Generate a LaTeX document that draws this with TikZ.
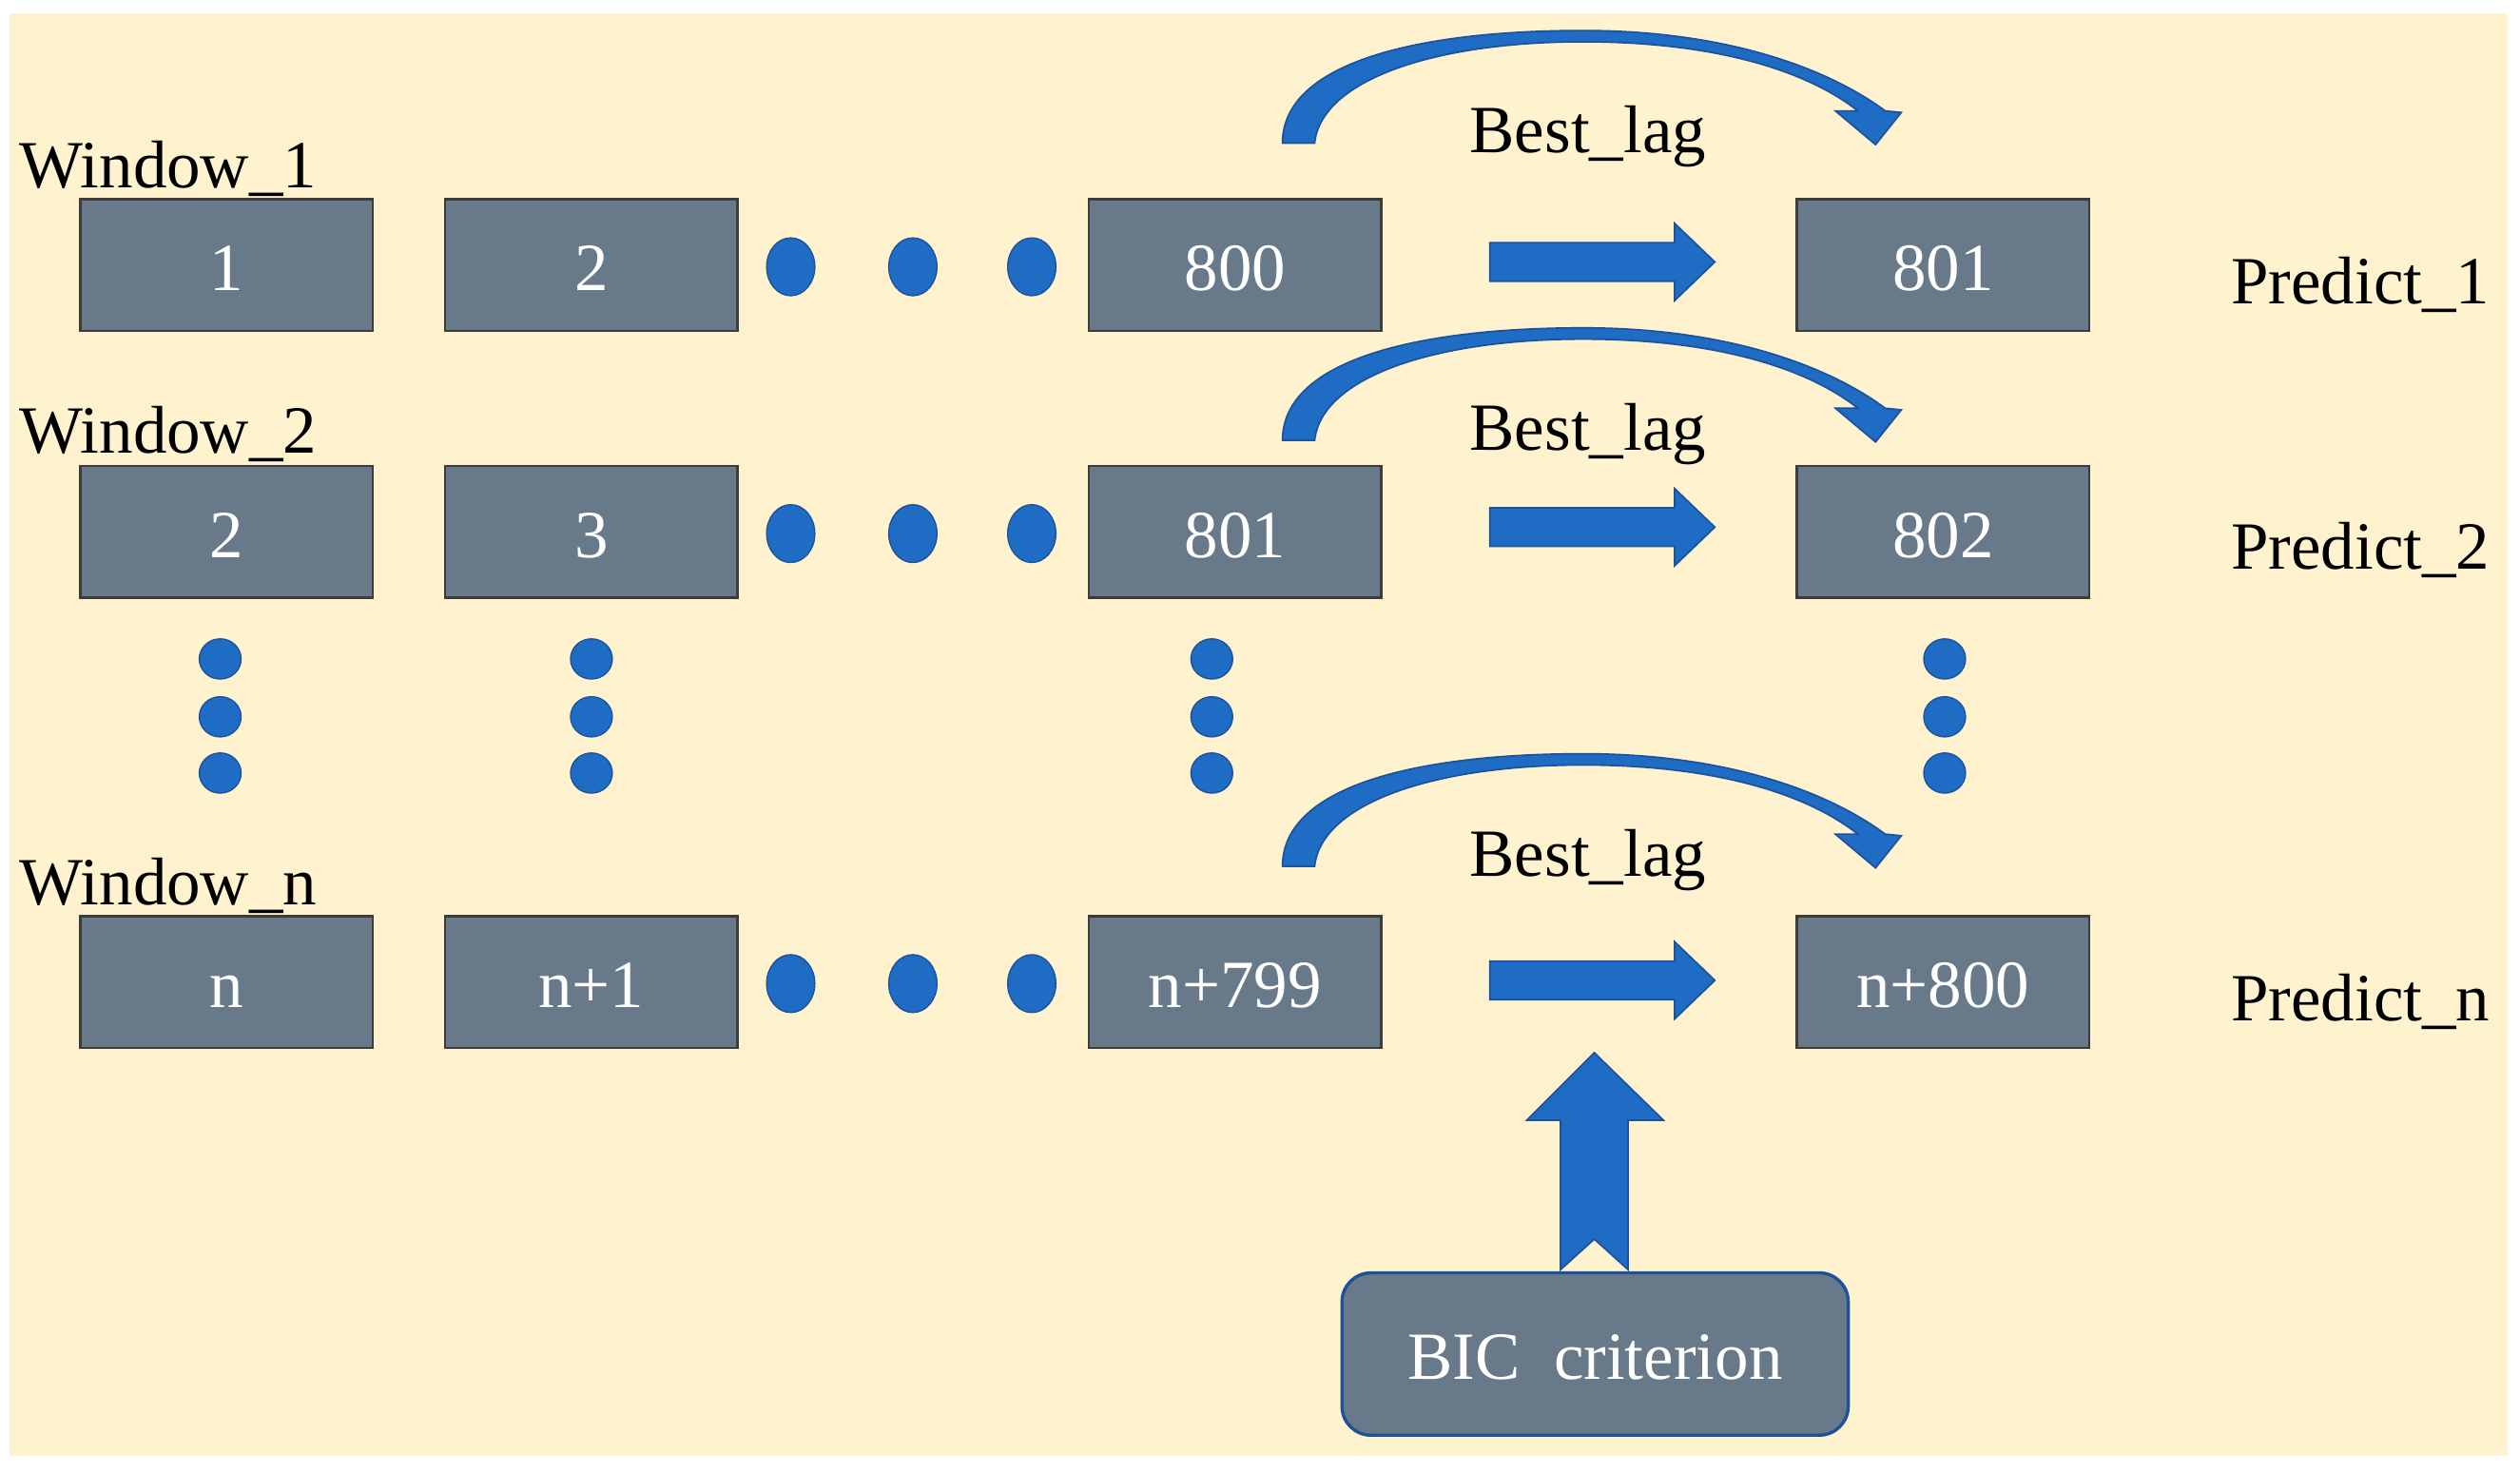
\documentclass[tikz,border=0pt]{standalone}
\usepackage{fontspec}
\setmainfont{Liberation Serif}
\definecolor{bg}{RGB}{255,242,206}
\definecolor{boxfill}{RGB}{104,121,138}
\definecolor{boxline}{RGB}{60,60,60}
\definecolor{arrowblue}{RGB}{30,108,196}
\definecolor{arrowline}{RGB}{28,82,156}
\newcommand\lblfont{\fontsize{42}{50}\selectfont}
\begin{document}
\begin{tikzpicture}[x=1pt,y=-1pt,
  cell/.style={draw=boxline, line width=1.5pt, fill=boxfill, minimum width=182pt,
    minimum height=82pt, inner sep=0pt, text=white, font=\lblfont,
    text height=32pt, text depth=0pt},
  lbl/.style={font=\lblfont, text=black, inner sep=0pt},
  blk/.style={fill=arrowblue, draw=arrowline, line width=1pt, line join=miter},
  hdot/.style={fill=arrowblue, draw=arrowline, line width=0.8pt}]
\useasboundingbox (0,0) rectangle (1568,916);
\fill[bg] (6,8) rectangle (1560,906);

% rows of boxes
\foreach \r/\cy/\a/\b/\c/\d in {1/165/1/2/800/801, 2/331/2/3/801/802, 3/611/n/n+1/n+799/n+800}{
  \node[cell] (r\r a) at (141,\cy) {\a};
  \node[cell] (r\r b) at (368,\cy) {\b};
  \node[cell] (r\r c) at (768.5,\cy) {\c};
  \node[cell] (r\r d) at (1209,\cy) {\d};
  \foreach \x in {492,568,642}{
    \filldraw[hdot] (\x,\cy+1) ellipse [x radius=15, y radius=18];
  }
}

% window / predict labels
\node[lbl, anchor=base west] (w1) at (12,117) {Window\_1};
\node[lbl, anchor=base west] (w2) at (12,282) {Window\_2};
\node[lbl, anchor=base west] (wn) at (12,563) {Window\_n};
\node[lbl, anchor=base west] (p1) at (1388,189) {Predict\_1};
\node[lbl, anchor=base west] (p2) at (1388,354) {Predict\_2};
\node[lbl, anchor=base west] (pn) at (1388,635) {Predict\_n};

% vertical dots
\foreach \x in {137,368,754,1210}{
  \foreach \y in {410,446,481}{
    \filldraw[hdot] (\x,\y) ellipse [x radius=13, y radius=12.5];
  }
}

% straight block arrows
\foreach \cy in {163,328,610}{
  \filldraw[blk] (927,\cy-12) -- (1042,\cy-12) -- (1042,\cy-24) -- (1067,\cy)
    -- (1042,\cy+24) -- (1042,\cy+12) -- (927,\cy+12) -- cycle;
}

% curved arrows + Best_lag
\foreach \dy/\nm in {0/b1,185/b2,450/bn}{
  \begin{scope}[yshift=-\dy pt]
    \filldraw[blk] (798,89) .. controls (798,38) and (885,19) .. (985,19)
      .. controls (1075,19) and (1138,43) .. (1173,69)
      -- (1183,70) -- (1167,90) -- (1142,69) -- (1156,69)
      .. controls (1123,43) and (1065,26) .. (985,26)
      .. controls (892,26) and (822,50) .. (818,89) -- cycle;
    \node[lbl, anchor=base] (\nm) at (988,95) {Best\_lag};
  \end{scope}
}

% BIC criterion
\node[draw=arrowline, line width=2pt, fill=boxfill, rounded corners=18pt,
  minimum width=315pt, minimum height=101pt, inner sep=0pt, text=white,
  font=\lblfont, text height=32pt, text depth=0pt] (bic) at (992.5,842.5) {BIC\ \ criterion};
\filldraw[blk] (992,655) -- (1035,697) -- (1013,697) -- (1013,790) -- (992,771)
  -- (971,790) -- (971,697) -- (950,697) -- cycle;
\end{tikzpicture}
\end{document}
